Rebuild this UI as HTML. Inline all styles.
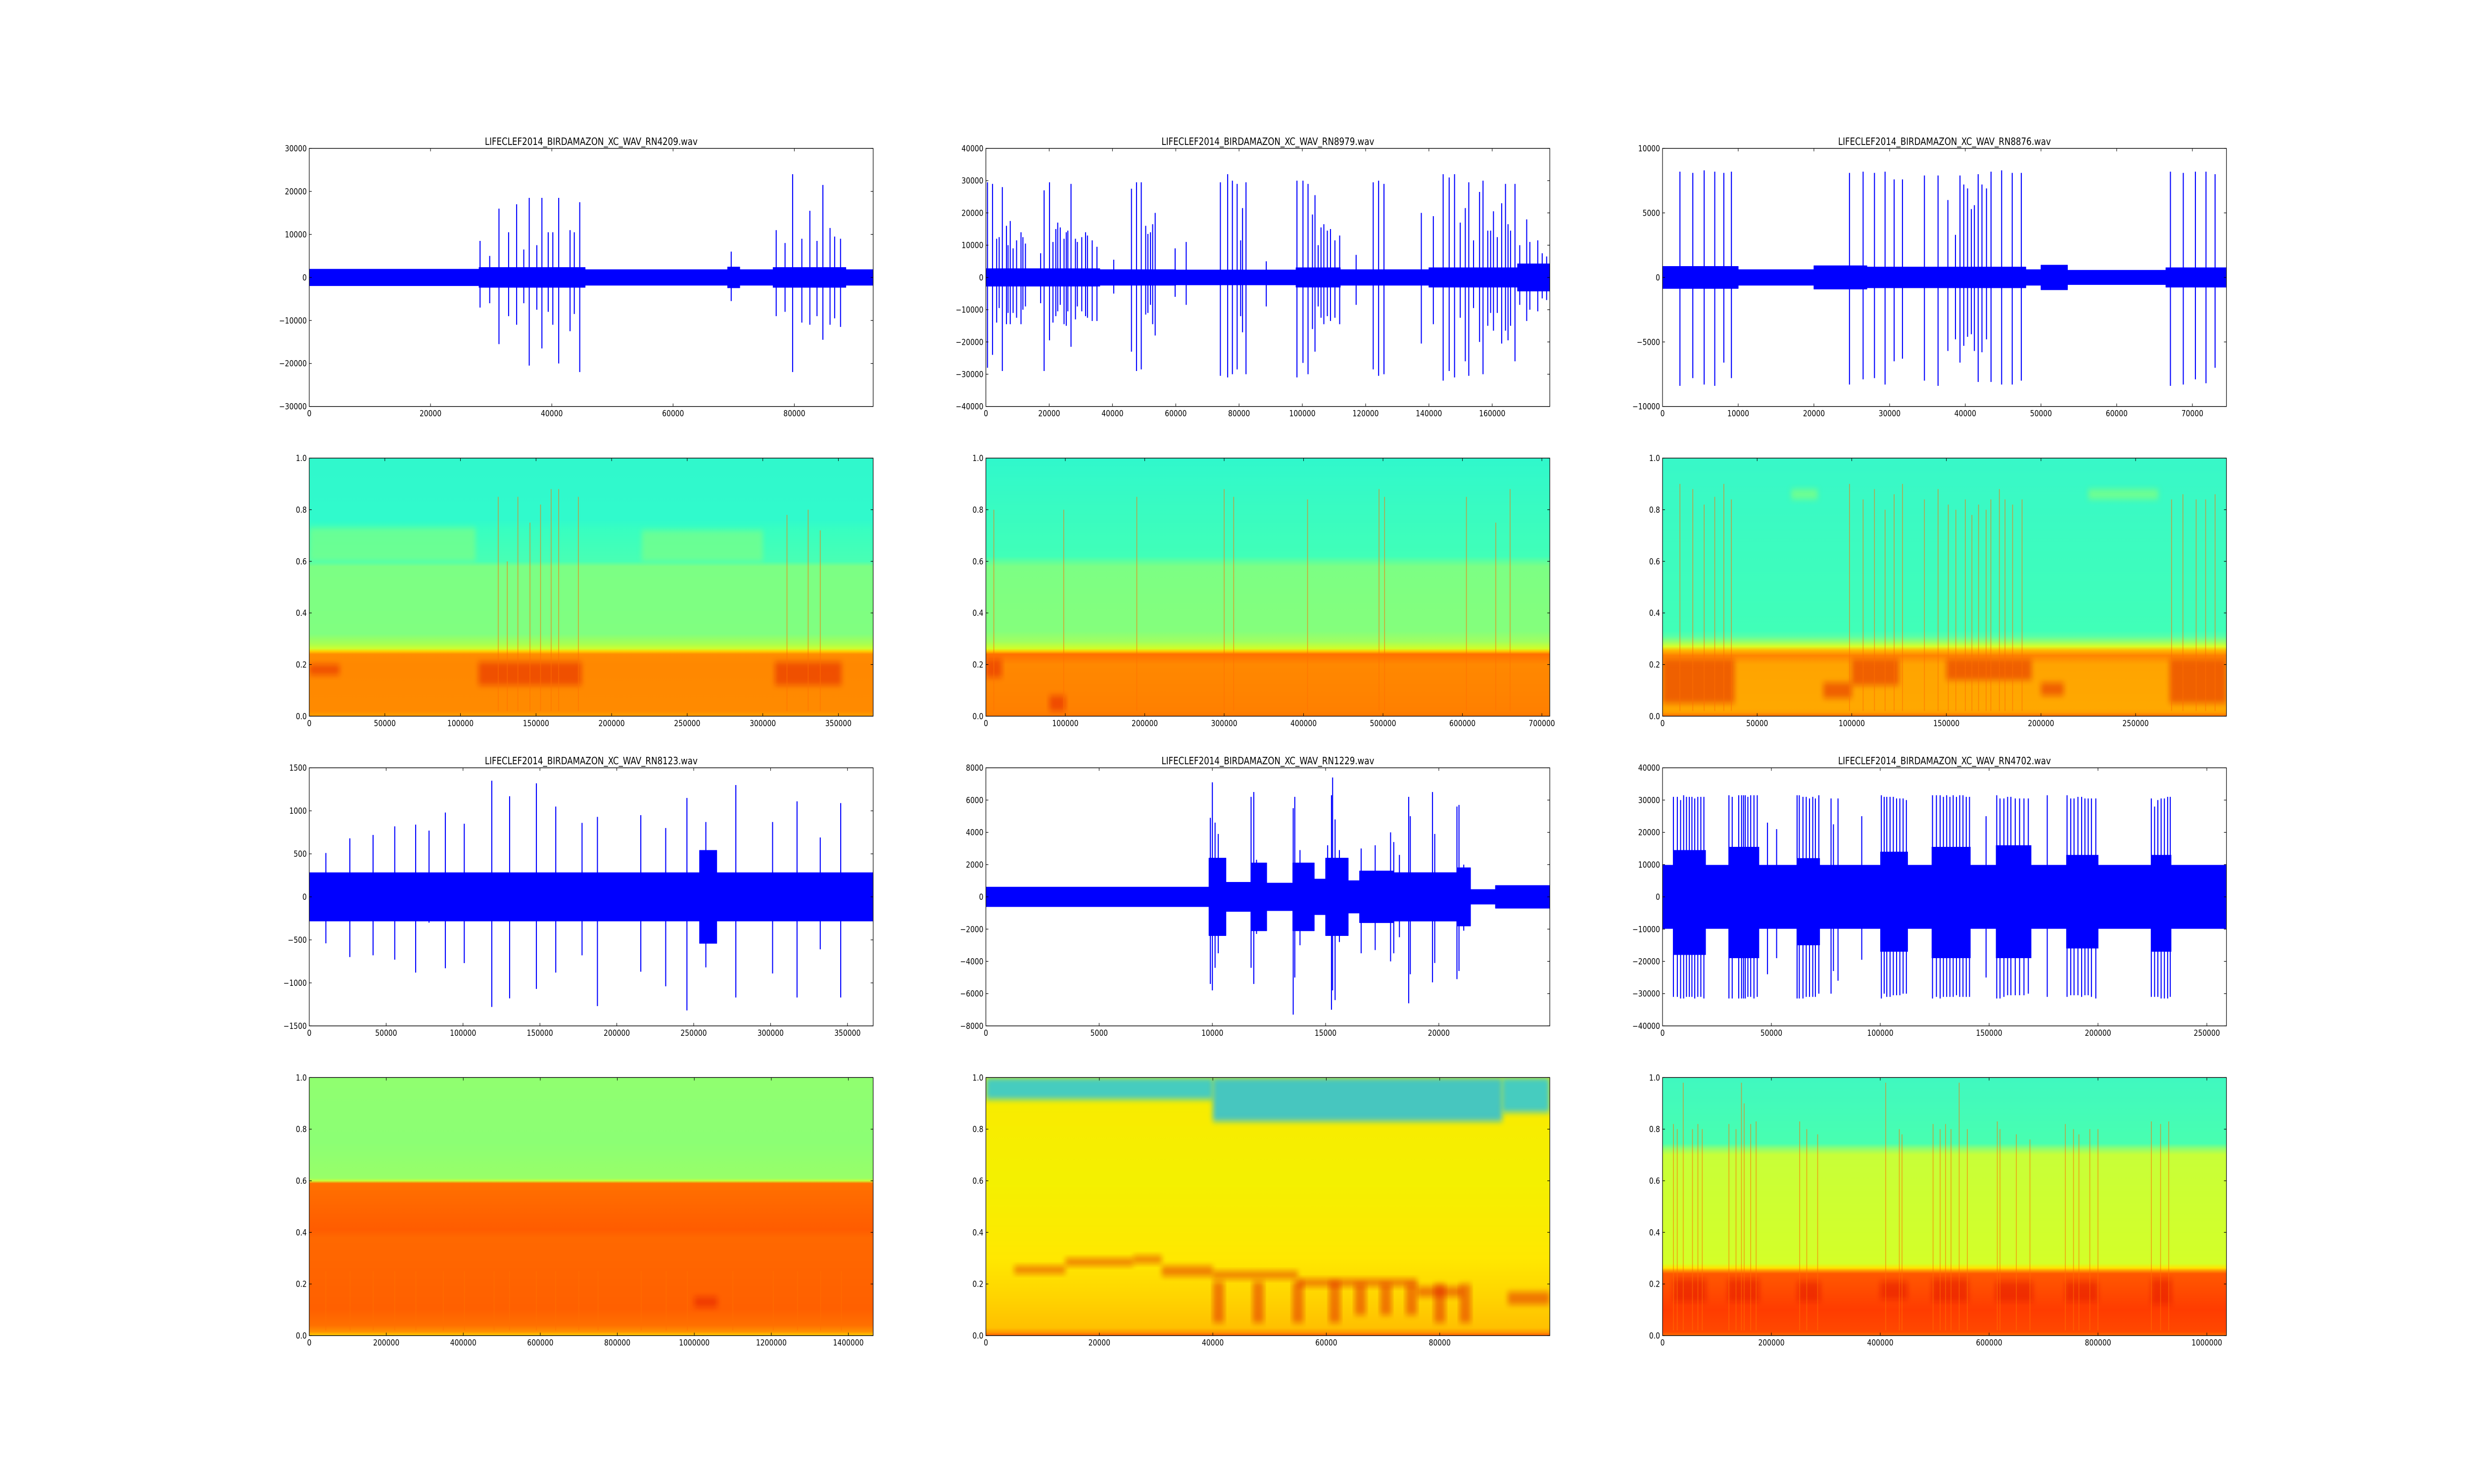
<!DOCTYPE html>
<html><head><meta charset="utf-8"><title>Bird audio waveforms and spectrograms</title>
<style>
html,body{margin:0;padding:0;background:#fff;overflow:hidden;width:100%;height:100%;}
svg{display:block;width:100vw;height:100vh;font-family:"DejaVu Sans","Liberation Sans",sans-serif;}
</style></head>
<body>
<svg id="fig" xmlns="http://www.w3.org/2000/svg" viewBox="0 0 6000 3000" preserveAspectRatio="none">
<rect x="0" y="0" width="6000" height="3000" fill="#ffffff"/>
<defs id="defs">
<filter id="blur" x="-20%" y="-50%" width="140%" height="200%"><feGaussianBlur stdDeviation="6"/></filter>
</defs>
</svg>
<script>
// ---------- waveform A: RN4209 ----------
const aTitle = "LIFECLEF2014_BIRDAMAZON_XC_WAV_RN4209.wav";
const aXMax = 93000, aYMax = 30000;
const aXTicks = [0,20000,40000,60000,80000];
const aYTicks = [-30000,-20000,-10000,0,10000,20000,30000];
const aNoiseEdges = [0,28000,45500,69000,71000,76500,88500,93000];
const aNoiseAmp = [1900,2300,1800,2400,1800,2300,1800];
const aSpikeX = [28170,29760,31290,32880,34200,35380,36280,37530,38370,39410,40170,41140,43010,43710,44610,69590,77010,78470,79720,81240,82560,83740,84710,85890,86650,87620];
const aSpikeUp = [8500,5000,16000,10500,17000,6500,18500,7500,18500,10500,10500,18500,11000,10500,17500,6000,11000,8000,24000,9000,15500,8500,21500,11500,9500,9000];
const aSpikeDown = [-7000,-6000,-15500,-9000,-11000,-6000,-20500,-7500,-16500,-8000,-11000,-20000,-12500,-8500,-22000,-5500,-9000,-8000,-22000,-10500,-11000,-9000,-14500,-11000,-9500,-11500];

// ---------- waveform B: RN8979 ----------
const bTitle = "LIFECLEF2014_BIRDAMAZON_XC_WAV_RN8979.wav";
const bXMax = 178200, bYMax = 40000;
const bXTicks = [0,20000,40000,60000,80000,100000,120000,140000,160000];
const bYTicks = [-40000,-30000,-20000,-10000,0,10000,20000,30000,40000];
const bNoiseEdges = [0,36000,60000,98000,112000,140000,168000,178200];
const bNoiseAmp = [2700,2400,2300,3000,2400,3000,4200];
const bSpikeX = [500,2100,3400,4200,5200,6500,7000,7700,8600,9700,11100,11700,12500,17300,18400,20100,21200,22100,22700,23500,24700,25400,25900,26900,28300,28900,30300,31500,32100,33600,35100,40400,46000,47600,49100,50500,51200,52000,52700,53500,59800,63300,74100,76400,77900,79400,80500,81100,82200,88600,98300,100200,101800,103200,104000,105000,105900,106800,107900,108900,110300,111800,117000,122400,124100,125800,137600,141400,144500,146400,148100,149900,151500,152600,154100,156000,157100,158600,159500,160400,161600,163000,164200,165000,165800,167200,168700,170900,171900,174400,175800,177200];
const bSpikeUp = [29500,29000,12000,12500,28000,16000,10000,17500,9000,11500,14000,12500,10500,7500,27000,29500,11000,15000,17000,15500,12000,14000,14500,29000,12000,11000,12500,14000,13000,11500,9500,5500,27500,29500,29500,16000,13500,14000,16500,20000,9000,11000,29500,32000,30000,29000,11500,21500,29500,5000,30000,30000,29000,19500,25500,10000,15500,16500,14500,15000,11500,13000,7000,29500,30000,29000,20000,19000,32000,31000,32000,17000,21500,29500,11500,26500,30000,14500,14500,20500,12500,23000,29000,16500,14500,29000,10000,18000,11000,11500,7500,6500];
const bSpikeDown = [-28000,-24000,-14000,-9500,-29000,-14500,-11000,-14500,-11000,-12500,-14500,-10000,-9000,-8000,-29000,-19500,-14000,-12000,-10500,-8500,-14500,-15000,-10500,-21500,-13000,-9000,-10500,-12000,-12500,-13500,-13500,-5000,-23000,-29000,-28500,-11500,-11000,-8500,-14500,-18000,-6000,-8500,-30500,-31000,-30000,-28500,-12000,-17000,-30000,-9000,-31000,-26500,-30000,-16000,-23000,-9000,-12500,-14500,-12000,-13500,-12500,-14500,-8500,-28500,-30500,-30000,-20500,-14500,-32000,-29000,-31000,-12500,-26000,-30500,-9500,-20000,-30000,-15000,-11000,-16500,-11000,-20500,-16500,-19500,-15000,-26000,-8500,-13500,-10000,-10500,-6500,-7000];

// ---------- waveform C: RN8876 ----------
const cTitle = "LIFECLEF2014_BIRDAMAZON_XC_WAV_RN8876.wav";
const cXMax = 74500, cYMax = 10000;
const cXTicks = [0,10000,20000,30000,40000,50000,60000,70000];
const cYTicks = [-10000,-5000,0,5000,10000];
const cNoiseEdges = [0,10000,20000,27000,48000,50000,53500,66500,74500];
const cNoiseAmp = [850,600,900,800,600,950,550,750];
const cSpikeX = [2300,4000,5500,6900,8100,9100,24700,26500,28000,29400,30600,31700,34600,36400,37700,38700,39300,39800,40300,40800,41200,41700,42200,42800,43400,44800,46200,47400,67100,68800,70400,71800,73000];
const cSpikeUp = [8200,8100,8300,8200,8100,8200,8100,8200,8100,8200,7600,7600,7900,7900,6000,3300,7900,7200,6900,5300,5600,8000,7200,6900,8200,8300,8100,8100,8200,8100,8200,8200,8000];
const cSpikeDown = [-8400,-7800,-8300,-8400,-6600,-7800,-8300,-7900,-7800,-8300,-6500,-6300,-8000,-8400,-5700,-4800,-6600,-5300,-4600,-4400,-5700,-8100,-5800,-4800,-8100,-8300,-8300,-8000,-8400,-8300,-7900,-8200,-7000];

// ---------- waveform D: RN8123 ----------
const dTitle = "LIFECLEF2014_BIRDAMAZON_XC_WAV_RN8123.wav";
const dXMax = 366700, dYMax = 1500;
const dXTicks = [0,50000,100000,150000,200000,250000,300000,350000];
const dYTicks = [-1500,-1000,-500,0,500,1000,1500];
const dNoiseEdges = [0,253800,265000,366700];
const dNoiseAmp = [280,540,280];
const dSpikeX = [10800,26400,41500,55600,69200,77900,88500,100800,118700,130300,147700,160300,177400,187400,215600,231800,245600,257900,277400,301300,317200,332300,345600];
const dSpikeUp = [510,680,720,820,840,770,980,850,1350,1170,1320,1050,860,930,950,800,1150,870,1300,870,1110,690,1090];
const dSpikeDown = [-540,-700,-680,-730,-880,-300,-830,-770,-1280,-1180,-1070,-880,-680,-1270,-870,-1040,-1320,-820,-1170,-890,-1170,-610,-1170];

// ---------- waveform E: RN1229 ----------
const eTitle = "LIFECLEF2014_BIRDAMAZON_XC_WAV_RN1229.wav";
const eXMax = 24900, eYMax = 8000;
const eXTicks = [0,5000,10000,15000,20000];
const eYTicks = [-8000,-6000,-4000,-2000,0,2000,4000,6000,8000];
const eNoiseEdges = [0,9850,10600,11700,12400,13550,14500,15000,16000,16500,18000,19600,20800,21400,22500,24900];
const eNoiseAmp = [600,2400,900,2100,850,2100,1100,2400,1000,1600,1500,1500,1800,450,700];
const eSpikeX = [9910,10000,10120,10260,10470,11710,11830,11950,13570,13640,13870,14130,15090,15260,15310,15420,15610,16570,17190,17870,18010,18260,18670,18740,19720,19820,20800,20890,21100];
const eSpikeUp = [4900,7100,4600,3900,2100,6200,6500,2300,5500,6200,2900,2000,3200,6300,7400,4800,2900,3000,3200,4000,3400,2600,6200,5000,6500,3900,5600,5700,2000];
const eSpikeDown = [-5400,-5800,-4400,-3500,-2200,-4400,-5400,-2300,-7300,-5000,-3000,-1800,-2000,-7000,-5800,-6400,-2800,-3500,-3300,-4000,-3500,-2500,-6600,-4800,-5300,-4100,-5100,-4600,-2100];

// ---------- waveform F: RN4702 ----------
const fTitle = "LIFECLEF2014_BIRDAMAZON_XC_WAV_RN4702.wav";
const fXMax = 259000, fYMax = 40000;
const fXTicks = [0,50000,100000,150000,200000,250000];
const fYTicks = [-40000,-30000,-20000,-10000,0,10000,20000,30000,40000];
const fNoiseEdges = [0,259000];
const fNoiseAmp = [9800];
const fBurstStart = [4900,30300,61600,100000,123600,153100,185400,224300];
const fBurstEnd = [19900,44400,72300,112700,141500,169400,200200,233700];
const fBurstUp = [14500,15500,12000,14000,15500,16000,13000,13000];
const fBurstDown = [-18000,-19000,-15000,-17000,-19000,-19000,-16000,-17000];
const fSpikeX = [5000,6800,8300,9700,11000,12300,13500,14800,16200,17600,19000,30500,32000,33500,35000,36300,37200,38000,39200,40500,42000,43500,48200,52400,61800,62800,64500,66000,67500,69000,70200,71800,77400,78500,80600,91500,100500,101800,103000,104500,106000,107500,109000,110500,112000,124000,125800,127500,129000,130500,132000,133500,135000,136500,138000,139500,141000,148600,153500,155000,156800,158500,160000,162000,164000,166000,168000,176700,185800,187500,189000,190800,192500,194000,195500,197000,199000,224500,226000,227500,229000,230500,232000,233200];
const fSpikeUp = [31000,31000,30000,31500,31000,31000,31000,30500,31000,31000,31000,31500,31000,15000,31500,31500,31500,31500,31000,31500,31500,31500,23000,21000,31500,31500,31000,31000,30500,31000,30500,31500,30500,22500,30500,25000,31500,31000,31000,31000,31000,30500,30500,30500,30000,31500,31500,31500,31000,31500,31000,31500,31000,31500,31500,31000,31000,25000,31500,30500,30500,31000,31000,30500,30500,30500,30500,31500,31500,30500,30500,31000,31000,30500,30500,30500,30500,30500,28000,30000,30500,30500,31000,31000];
const fSpikeDown = [-31000,-31000,-31500,-31500,-31000,-31000,-31000,-31500,-31000,-31000,-31500,-31500,-31500,-17000,-31500,-31500,-31500,-31500,-31000,-31000,-31500,-31000,-24000,-19000,-31500,-31500,-31500,-31000,-31000,-31000,-31000,-30000,-30000,-23000,-26000,-19500,-31500,-30000,-31000,-31000,-30500,-30500,-30500,-30000,-30000,-31500,-31000,-31500,-31000,-31000,-31000,-31000,-30500,-31000,-31000,-31000,-31000,-25000,-31500,-31500,-31000,-30500,-30500,-30500,-30500,-30500,-30000,-31000,-31000,-30500,-30500,-30500,-31000,-30500,-30500,-31000,-31500,-31000,-31000,-31000,-31500,-31500,-31500,-31000];

// ---------- spectrogram A (row 2, col 1) ----------
const saXMax = 373000;
const saXTicks = [0,50000,100000,150000,200000,250000,300000,350000];
const specYTicks = [0.0,0.2,0.4,0.6,0.8,1.0];
const saFreq = [0,0.02,0.2,0.24,0.252,0.262,0.28,0.32,0.58,0.6,0.72,0.76,1];
const saColor = ["#ffa000","#ff8a00","#ff8800","#ff8c00","#ffd000","#ccff30","#a8ff50","#80ff80","#7cff84","#48ffb4","#38ffc0","#30facc","#30f8cc"];
const saPatchX0 = [0,220000];
const saPatchX1 = [110000,300000];
const saPatchF0 = [0.6,0.6];
const saPatchF1 = [0.73,0.72];
const saPatchColor = ["#78ff88","#78ff88"];
const saBlobX0 = [112000,308000,0];
const saBlobX1 = [180000,352000,20000];
const saBlobF0 = [0.12,0.12,0.16];
const saBlobF1 = [0.21,0.21,0.2];
const saStreakX = [125000,131000,138000,146000,153000,160000,165000,178000,316000,330000,338000];
const saStreakTop = [0.85,0.6,0.85,0.75,0.82,0.88,0.88,0.85,0.78,0.8,0.72];

// ---------- spectrogram B (row 2, col 2) ----------
const sbXMax = 710000;
const sbXTicks = [0,100000,200000,300000,400000,500000,600000,700000];
const sbFreq = [0,0.02,0.2,0.24,0.252,0.262,0.29,0.33,0.58,0.62,1];
const sbColor = ["#ff7a00","#ff8000","#ff8800","#ff7000","#ffc800","#d0ff28","#a0ff60","#84ff7c","#7cff84","#40ffb8","#30f8cc"];
const sbPatchX0 = [];
const sbPatchX1 = [];
const sbPatchF0 = [];
const sbPatchF1 = [];
const sbPatchColor = [];
const sbBlobX0 = [0,80000];
const sbBlobX1 = [20000,100000];
const sbBlobF0 = [0.15,0.02];
const sbBlobF1 = [0.22,0.08];
const sbStreakX = [10000,98000,190000,300000,312000,405000,495000,502000,605000,642000,660000];
const sbStreakTop = [0.8,0.8,0.85,0.88,0.85,0.84,0.88,0.85,0.85,0.75,0.88];

// ---------- spectrogram C (row 2, col 3) ----------
const scXMax = 298000;
const scXTicks = [0,50000,100000,150000,200000,250000];
const scFreq = [0,0.015,0.03,0.2,0.235,0.255,0.27,0.29,0.31,0.33,1];
const scColor = ["#ff7000","#ffa000","#ffa800","#ffa400","#ff8400","#ffb800","#d8ff28","#90ff70","#58ffa8","#40ffb8","#38f8c8"];
const scPatchX0 = [68000,225000];
const scPatchX1 = [82000,262000];
const scPatchF0 = [0.84,0.84];
const scPatchF1 = [0.88,0.88];
const scPatchColor = ["#80ff80","#80ff80"];
const scBlobX0 = [0,100000,85000,200000,268000,150000];
const scBlobX1 = [38000,125000,100000,212000,298000,195000];
const scBlobF0 = [0.05,0.12,0.07,0.08,0.05,0.14];
const scBlobF1 = [0.22,0.22,0.13,0.13,0.22,0.22];
const scStreakX = [9200,16000,22000,27600,32400,36400,98800,106000,112000,117600,122400,126800,138400,145600,151000,155000,160000,163500,167000,171000,173500,178000,181000,185000,190000,269000,275000,282000,287000,292000];
const scStreakTop = [0.9,0.88,0.82,0.85,0.9,0.84,0.9,0.84,0.88,0.8,0.86,0.9,0.84,0.88,0.82,0.8,0.84,0.78,0.82,0.8,0.84,0.88,0.84,0.82,0.84,0.84,0.86,0.84,0.84,0.86];

// ---------- spectrogram D (row 4, col 1) ----------
const sdXMax = 1464500;
const sdXTicks = [0,200000,400000,600000,800000,1000000,1200000,1400000];
const sdFreq = [0,0.015,0.04,0.1,0.38,0.41,0.59,0.6,0.61,0.75,1];
const sdColor = ["#ffd000","#ff9000","#ff7000","#ff6000","#ff6800","#ff5c00","#ff7000","#c8ff38","#98ff68","#8cff74","#90ff70"];
const sdPatchX0 = [];
const sdPatchX1 = [];
const sdPatchF0 = [];
const sdPatchF1 = [];
const sdPatchColor = [];
const sdBlobX0 = [1000000];
const sdBlobX1 = [1060000];
const sdBlobF0 = [0.11];
const sdBlobF1 = [0.15];
const sdStreakX = [43000,106000,166000,222000,277000,348000,403000,480000,520000,590000,640000,700000,750000,862000,927000,982000,1100000,1205000,1268000,1328000,1382000];
const sdStreakTop = [0.25,0.25,0.25,0.25,0.25,0.25,0.25,0.25,0.25,0.25,0.25,0.25,0.25,0.25,0.25,0.25,0.25,0.25,0.25,0.25,0.25];

// ---------- spectrogram E (row 4, col 2) ----------
const seXMax = 99400;
const seXTicks = [0,20000,40000,60000,80000];
const seFreq = [0,0.012,0.03,0.15,0.3,0.6,0.85,1];
const seColor = ["#ff6000","#ff9800","#ffc000","#ffd400","#ffe800","#f4f000","#f8ec00","#f0f000"];
const sePatchX0 = [0,40000,91000];
const sePatchX1 = [40000,91000,99400];
const sePatchF0 = [0.915,0.83,0.865];
const sePatchF1 = [1,1,1];
const sePatchColor = ["#10c0ff","#10b8ff","#10c0ff"];
const seBlobX0 = [5000,14000,26000,31000,40000,55000,76000,92000,40000,47000,54000,60500,65000,69500,74000,79000,83500];
const seBlobX1 = [14000,26000,31000,40000,55000,76000,84000,99400,42000,49000,56000,62500,67000,71500,76000,81000,85500];
const seBlobF0 = [0.24,0.27,0.28,0.23,0.22,0.19,0.15,0.12,0.05,0.05,0.05,0.05,0.08,0.08,0.08,0.05,0.05];
const seBlobF1 = [0.27,0.3,0.31,0.27,0.25,0.22,0.19,0.17,0.21,0.21,0.21,0.21,0.2,0.2,0.2,0.2,0.2];
const seStreakX = [];
const seStreakTop = [];

// ---------- spectrogram F (row 4, col 3) ----------
const sfXMax = 1036000;
const sfXTicks = [0,200000,400000,600000,800000,1000000];
const sfFreq = [0,0.015,0.1,0.24,0.252,0.262,0.28,0.7,0.725,0.745,1];
const sfColor = ["#ff7000","#ff4800","#ff3c00","#ff5800","#ff9800","#ffe400","#d4ff28","#c8ff38","#90ff70","#48ffb0","#40f8c0"];
const sfPatchX0 = [];
const sfPatchX1 = [];
const sfPatchF0 = [];
const sfPatchF1 = [];
const sfPatchColor = [];
const sfBlobX0 = [20000,120000,248000,400000,495000,612000,740000,898000];
const sfBlobX1 = [80000,178000,290000,450000,562000,680000,800000,935000];
const sfBlobF0 = [0.13,0.13,0.13,0.14,0.13,0.13,0.13,0.12];
const sfBlobF1 = [0.22,0.22,0.21,0.21,0.22,0.21,0.21,0.22];
const sfStreakX = [20000,27000,38000,55000,65000,73000,122000,135000,145000,150000,162000,172000,252000,265000,285000,410000,435000,440000,497000,510000,520000,530000,545000,560000,615000,620000,650000,675000,740000,755000,765000,785000,800000,898000,915000,930000];
const sfStreakTop = [0.82,0.8,0.98,0.8,0.82,0.8,0.82,0.8,0.98,0.9,0.82,0.83,0.83,0.8,0.78,0.98,0.8,0.78,0.82,0.8,0.82,0.8,0.98,0.8,0.83,0.8,0.78,0.76,0.82,0.8,0.78,0.8,0.8,0.83,0.82,0.83];

// ---------- layout ----------
const NS = "http://www.w3.org/2000/svg";
const svg = document.getElementById('fig');
const defs = document.getElementById('defs');
const colLeft = [750, 2391, 4032];
const rowTop = [300, 926.1, 1552.2, 2178.3];
const AXW = 1367.6, AXH = 521.7;

function el(tag, attrs, parent) {
  const e = document.createElementNS(NS, tag);
  for (const k in attrs) e.setAttribute(k, attrs[k]);
  (parent || svg).appendChild(e);
  return e;
}
function fmt(v) {
  const s = String(Math.abs(v));
  return v < 0 ? "\u2212" + s : s;
}
function makeAxes(col, row, name) {
  const g = el('g', {});
  
  
  return {x0: colLeft[col], y0: rowTop[row], w: AXW, h: AXH, g: g};
}
function xScale(ax, xmax) { return v => ax.x0 + v / xmax * ax.w; }
function yScale(ax, ymin, ymax) { return v => ax.y0 + (ymax - v) / (ymax - ymin) * ax.h; }

function drawFrame(ax, xTicks, yTicks, sx, sy, yDec, title) {
  const frame = el('rect', {x: ax.x0, y: ax.y0, width: ax.w, height: ax.h, fill: 'none', stroke: '#000', 'stroke-width': 1.4}, ax.g);
  
  
  const xt = el('g', {}, ax.g);
  
  
  xTicks.forEach(v => {
    const x = sx(v);
    el('line', {x1: x, y1: ax.y0 + ax.h, x2: x, y2: ax.y0 + ax.h - 6, stroke: '#000', 'stroke-width': 1.2}, xt);
    el('line', {x1: x, y1: ax.y0, x2: x, y2: ax.y0 + 6, stroke: '#000', 'stroke-width': 1.2}, xt);
    const t = el('text', {x: x, y: ax.y0 + ax.h + 20, 'font-size': 16.7, 'text-anchor': 'middle', fill: '#000'}, xt);
    t.textContent = fmt(v);
    
    
  });
  const yt = el('g', {}, ax.g);
  
  
  yTicks.forEach(v => {
    const y = sy(v);
    el('line', {x1: ax.x0, y1: y, x2: ax.x0 + 6, y2: y, stroke: '#000', 'stroke-width': 1.2}, yt);
    el('line', {x1: ax.x0 + ax.w, y1: y, x2: ax.x0 + ax.w - 6, y2: y, stroke: '#000', 'stroke-width': 1.2}, yt);
    const t = el('text', {x: ax.x0 - 6, y: y + 6, 'font-size': 16.7, 'text-anchor': 'end', fill: '#000'}, yt);
    t.textContent = yDec ? (v < 0 ? "\u2212" : "") + Math.abs(v).toFixed(1) : fmt(v);
    
    
  });
  if (title) {
    const tt = el('text', {x: ax.x0 + ax.w / 2, y: ax.y0 - 7, 'font-size': 20, 'text-anchor': 'middle', fill: '#000'}, ax.g);
    tt.textContent = title;
    
    
  }
}

function drawWave(col, row, name, title, xmax, ymax, xTicks, yTicks, nEdges, nAmp, spX, spUp, spDown, bS, bE, bU, bD) {
  const ax = makeAxes(col, row, name);
  const sx = xScale(ax, xmax), sy = yScale(ax, -ymax, ymax);
  const clipId = 'clip-' + name;
  const cp = el('clipPath', {id: clipId}, defs);
  el('rect', {x: ax.x0, y: ax.y0, width: ax.w, height: ax.h}, cp);
  const data = el('g', {'clip-path': 'url(#' + clipId + ')'}, ax.g);
  
  
  let up = [], dn = [];
  for (let i = 0; i < nAmp.length; i++) {
    up.push(sx(nEdges[i]) + ',' + sy(nAmp[i]));
    up.push(sx(nEdges[i + 1]) + ',' + sy(nAmp[i]));
    dn.unshift(sx(nEdges[i]) + ',' + sy(-nAmp[i]));
    dn.unshift(sx(nEdges[i + 1]) + ',' + sy(-nAmp[i]));
  }
  const poly = el('polygon', {points: up.concat(dn).join(' '), fill: '#0000ff', stroke: '#0000ff', 'stroke-width': 1.4, 'stroke-linejoin': 'round'}, data);
  
  
  if (bS) {
    for (let i = 0; i < bS.length; i++) {
      const r = el('rect', {x: sx(bS[i]), y: sy(bU[i]), width: sx(bE[i]) - sx(bS[i]), height: sy(bD[i]) - sy(bU[i]), fill: '#0000ff'}, data);
      
      
    }
  }
  for (let i = 0; i < spX.length; i++) {
    const l = el('line', {x1: sx(spX[i]), y1: sy(spUp[i]), x2: sx(spX[i]), y2: sy(spDown[i]), stroke: '#0000ff', 'stroke-width': 2.5}, data);
    
    
  }
  drawFrame(ax, xTicks, yTicks, sx, sy, false, title);
}

function drawSpec(col, row, name, xmax, xTicks, freq, color, pX0, pX1, pF0, pF1, pC, bX0, bX1, bF0, bF1, stX, stTop) {
  const ax = makeAxes(col, row, name);
  const sx = xScale(ax, xmax), sy = yScale(ax, 0, 1);
  const gid = 'grad-' + name;
  const lg = el('linearGradient', {id: gid, x1: 0, y1: 0, x2: 0, y2: 1}, defs);
  for (let i = freq.length - 1; i >= 0; i--) {
    el('stop', {offset: (1 - freq[i]), 'stop-color': color[i]}, lg);
  }
  const clipId = 'clip-' + name;
  const cp = el('clipPath', {id: clipId}, defs);
  el('rect', {x: ax.x0, y: ax.y0, width: ax.w, height: ax.h}, cp);
  const data = el('g', {'clip-path': 'url(#' + clipId + ')'}, ax.g);
  
  
  const bg = el('rect', {x: ax.x0, y: ax.y0, width: ax.w, height: ax.h, fill: 'url(#' + gid + ')'}, data);
  
  
  for (let i = 0; i < pX0.length; i++) {
    const r = el('rect', {x: sx(pX0[i]), y: sy(pF1[i]), width: sx(pX1[i]) - sx(pX0[i]), height: sy(pF0[i]) - sy(pF1[i]), fill: pC[i], opacity: 0.75, filter: 'url(#blur)'}, data);
    
    
  }
  for (let i = 0; i < bX0.length; i++) {
    const r = el('rect', {x: sx(bX0[i]), y: sy(bF1[i]), width: sx(bX1[i]) - sx(bX0[i]), height: sy(bF0[i]) - sy(bF1[i]), fill: '#dd1000', opacity: 0.45, filter: 'url(#blur)'}, data);
    
    
  }
  for (let i = 0; i < stX.length; i++) {
    const l = el('line', {x1: sx(stX[i]), y1: sy(0.02), x2: sx(stX[i]), y2: sy(stTop[i]), stroke: '#ff7000', 'stroke-width': 2, opacity: 0.6}, data);
    
    
  }
  drawFrame(ax, xTicks, specYTicks, sx, sy, true, null);
}

drawWave(0, 0, 'waveform-rn4209', aTitle, aXMax, aYMax, aXTicks, aYTicks, aNoiseEdges, aNoiseAmp, aSpikeX, aSpikeUp, aSpikeDown);
drawWave(1, 0, 'waveform-rn8979', bTitle, bXMax, bYMax, bXTicks, bYTicks, bNoiseEdges, bNoiseAmp, bSpikeX, bSpikeUp, bSpikeDown);
drawWave(2, 0, 'waveform-rn8876', cTitle, cXMax, cYMax, cXTicks, cYTicks, cNoiseEdges, cNoiseAmp, cSpikeX, cSpikeUp, cSpikeDown);
drawWave(0, 2, 'waveform-rn8123', dTitle, dXMax, dYMax, dXTicks, dYTicks, dNoiseEdges, dNoiseAmp, dSpikeX, dSpikeUp, dSpikeDown);
drawWave(1, 2, 'waveform-rn1229', eTitle, eXMax, eYMax, eXTicks, eYTicks, eNoiseEdges, eNoiseAmp, eSpikeX, eSpikeUp, eSpikeDown);
drawWave(2, 2, 'waveform-rn4702', fTitle, fXMax, fYMax, fXTicks, fYTicks, fNoiseEdges, fNoiseAmp, fSpikeX, fSpikeUp, fSpikeDown, fBurstStart, fBurstEnd, fBurstUp, fBurstDown);

drawSpec(0, 1, 'spectrogram-rn4209', saXMax, saXTicks, saFreq, saColor, saPatchX0, saPatchX1, saPatchF0, saPatchF1, saPatchColor, saBlobX0, saBlobX1, saBlobF0, saBlobF1, saStreakX, saStreakTop);
drawSpec(1, 1, 'spectrogram-rn8979', sbXMax, sbXTicks, sbFreq, sbColor, sbPatchX0, sbPatchX1, sbPatchF0, sbPatchF1, sbPatchColor, sbBlobX0, sbBlobX1, sbBlobF0, sbBlobF1, sbStreakX, sbStreakTop);
drawSpec(2, 1, 'spectrogram-rn8876', scXMax, scXTicks, scFreq, scColor, scPatchX0, scPatchX1, scPatchF0, scPatchF1, scPatchColor, scBlobX0, scBlobX1, scBlobF0, scBlobF1, scStreakX, scStreakTop);
drawSpec(0, 3, 'spectrogram-rn8123', sdXMax, sdXTicks, sdFreq, sdColor, sdPatchX0, sdPatchX1, sdPatchF0, sdPatchF1, sdPatchColor, sdBlobX0, sdBlobX1, sdBlobF0, sdBlobF1, sdStreakX, sdStreakTop);
drawSpec(1, 3, 'spectrogram-rn1229', seXMax, seXTicks, seFreq, seColor, sePatchX0, sePatchX1, sePatchF0, sePatchF1, sePatchColor, seBlobX0, seBlobX1, seBlobF0, seBlobF1, seStreakX, seStreakTop);
drawSpec(2, 3, 'spectrogram-rn4702', sfXMax, sfXTicks, sfFreq, sfColor, sfPatchX0, sfPatchX1, sfPatchF0, sfPatchF1, sfPatchColor, sfBlobX0, sfBlobX1, sfBlobF0, sfBlobF1, sfStreakX, sfStreakTop);
</script>
</body></html>
